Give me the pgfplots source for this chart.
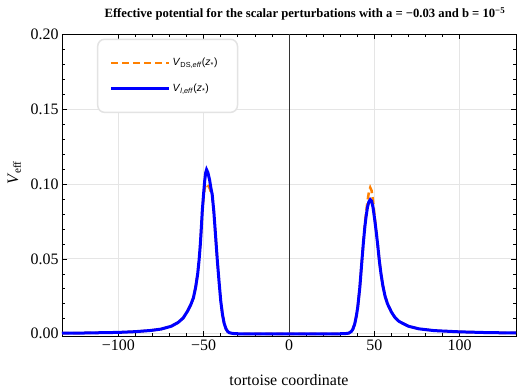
\documentclass[border=0pt]{standalone}
\usepackage{pgfplots}
\pgfplotsset{compat=1.18}
\usepackage{fontspec}
\setmainfont{Liberation Serif}
\setsansfont{Liberation Sans}
\definecolor{morange}{rgb}{1,0.5,0}
\definecolor{mblue}{rgb}{0,0,1}
\definecolor{gridgray}{gray}{0.9}
\begin{document}
\begin{tikzpicture}
\begin{axis}[name=ax, scale only axis, width=454bp, height=302bp,
  xmin=-133, xmax=133, ymin=-0.0015, ymax=0.2,
  xtick={-100,-50,0,50,100}, xticklabels={−100,−50,0,50,100},
  ytick={0,0.05,0.1,0.15,0.2}, yticklabels={0.00,0.05,0.10,0.15,0.20},
  minor x tick num=4, minor y tick num=4,
  tick align=inside, major tick length=5bp, minor tick length=3bp,
  tick style={black, line width=0.6pt},
  tick label style={font=\fontsize{16}{16}\selectfont},
  axis line style={black, line width=0.8pt},
  grid=major, major grid style={gridgray, line width=0.7pt},
  title={\bfseries Effective potential for the scalar perturbations with a = −0.03 and b = 10\textsuperscript{−5}},
  title style={font=\fontsize{12.7}{12.7}\selectfont, at={(0.535,1)}, anchor=south, yshift=4bp},
  xlabel={tortoise coordinate},
  xlabel style={font=\fontsize{16}{16}\selectfont, at={(axis description cs:0.5,-0.145)}, anchor=center},
  ylabel={\textit{V}\textsubscript{eff}},
  ylabel style={font=\fontsize{16}{16}\selectfont, at={(axis description cs:-0.105,0.54)}, anchor=center},
  legend style={at={(0.077,0.985)}, anchor=north west, draw=gray!22, line width=1.5pt,
    rounded corners=7pt, fill=white, inner xsep=12bp, inner ysep=17bp,
    font=\sffamily\fontsize{10.5}{11}\selectfont, row sep=13bp,
    /tikz/every even column/.append style={column sep=4bp}},
  legend cell align=left,
  legend image code/.code={\draw[#1] (0bp,0bp) -- (58bp,0bp);},
]
\draw[black!80, line width=0.8pt] (axis cs:0,-0.0015) -- (axis cs:0,0.2);
\addplot[morange, line width=2.5bp, dash pattern=on 7bp off 4bp] coordinates {
(-133,0.0004) (-120,0.0005) (-110,0.0007) (-100,0.0009) (-90,0.0014) (-81,0.0022) (-75,0.0031) (-69,0.0050) (-65,0.0075) (-62,0.0105) (-59.5,0.0150) (-57.5,0.0195) (-56,0.0240) (-54.7,0.0310) (-53.5,0.0400) (-52.7,0.0490) (-52,0.0590) (-51.5,0.0680) (-50.8,0.0820) (-50,0.0920) (-49.3,0.0975) (-48.6,0.1000) (-47.9,0.0995) (-47.2,0.0985) (-46.5,0.0970) (-45.8,0.0945) (-45,0.0920) (-44,0.0810) (-43,0.0650) (-42,0.0490) (-41,0.0350) (-40,0.0220) (-39,0.0130) (-38,0.0070) (-37,0.0035) (-36,0.0016) (-35,0.0007) (-33,0.0002) (-30,0.0000)
(30,0.0000) (33,0.0001) (35,0.0004) (36.5,0.0015) (37.4,0.0030) (38.5,0.0065) (39.5,0.0120) (40.3,0.0180) (41.5,0.0310) (42.6,0.0470) (43.6,0.0615) (44.5,0.0735) (45.2,0.0810) (46,0.0885) (46.8,0.0945) (47.6,0.0975) (48.4,0.0955) (49.2,0.0890) (50,0.0800) (51,0.0700) (52,0.0590) (53,0.0480) (53.9,0.0400) (55,0.0320) (56.3,0.0250) (57.7,0.0200) (60,0.0145) (62,0.0110) (64.5,0.0082) (70,0.0050) (76,0.0033) (85,0.0021) (99.4,0.0013) (115,0.0008) (133,0.0005)
};
\addlegendentry{\textit{V}\textsubscript{DS,\textit{eff}}(\textit{z}\textsubscript{*})\hspace*{6bp}}
\addplot[mblue, line width=3bp] coordinates {
(-133,0.0004) (-120,0.0005) (-110,0.0007) (-100,0.0009) (-90,0.0014) (-81,0.0022) (-75,0.0031) (-69,0.0050) (-65,0.0075) (-62,0.0105) (-59.5,0.0150) (-57.5,0.0195) (-56,0.0240) (-54.7,0.0310) (-53.5,0.0400) (-52.7,0.0490) (-52,0.0590) (-51.5,0.0680) (-50.8,0.0820) (-50,0.0940) (-49.4,0.1020) (-48.8,0.1075) (-48.3,0.1095) (-47.5,0.1075) (-46.5,0.1025) (-45.8,0.0975) (-45,0.0930) (-44,0.0810) (-43,0.0650) (-42,0.0490) (-41,0.0350) (-40,0.0220) (-39,0.0130) (-38,0.0070) (-37,0.0035) (-36,0.0016) (-35,0.0007) (-33,0.0002) (-30,0.0000)
(30,0.0000) (33,0.0001) (35,0.0004) (36.5,0.0015) (37.4,0.0030) (38.5,0.0065) (39.5,0.0120) (40.3,0.0180) (41.5,0.0310) (42.6,0.0470) (43.6,0.0610) (44.5,0.0720) (45.2,0.0785) (46,0.0845) (46.8,0.0880) (47.6,0.0895) (48.4,0.0885) (49.2,0.0845) (50,0.0780) (51,0.0690) (52,0.0590) (53,0.0480) (53.9,0.0400) (55,0.0320) (56.3,0.0250) (57.7,0.0200) (60,0.0145) (62,0.0110) (64.5,0.0082) (70,0.0050) (76,0.0033) (85,0.0021) (99.4,0.0013) (115,0.0008) (133,0.0005)
};
\addlegendentry{\textit{V}\textsubscript{\textit{l},\textit{eff}}(\textit{z}\textsubscript{*})}
\end{axis}
\path ([shift={(-62bp,-56bp)}]ax.south west) rectangle ([shift={(7bp,34bp)}]ax.north east);
\end{tikzpicture}
\end{document}
